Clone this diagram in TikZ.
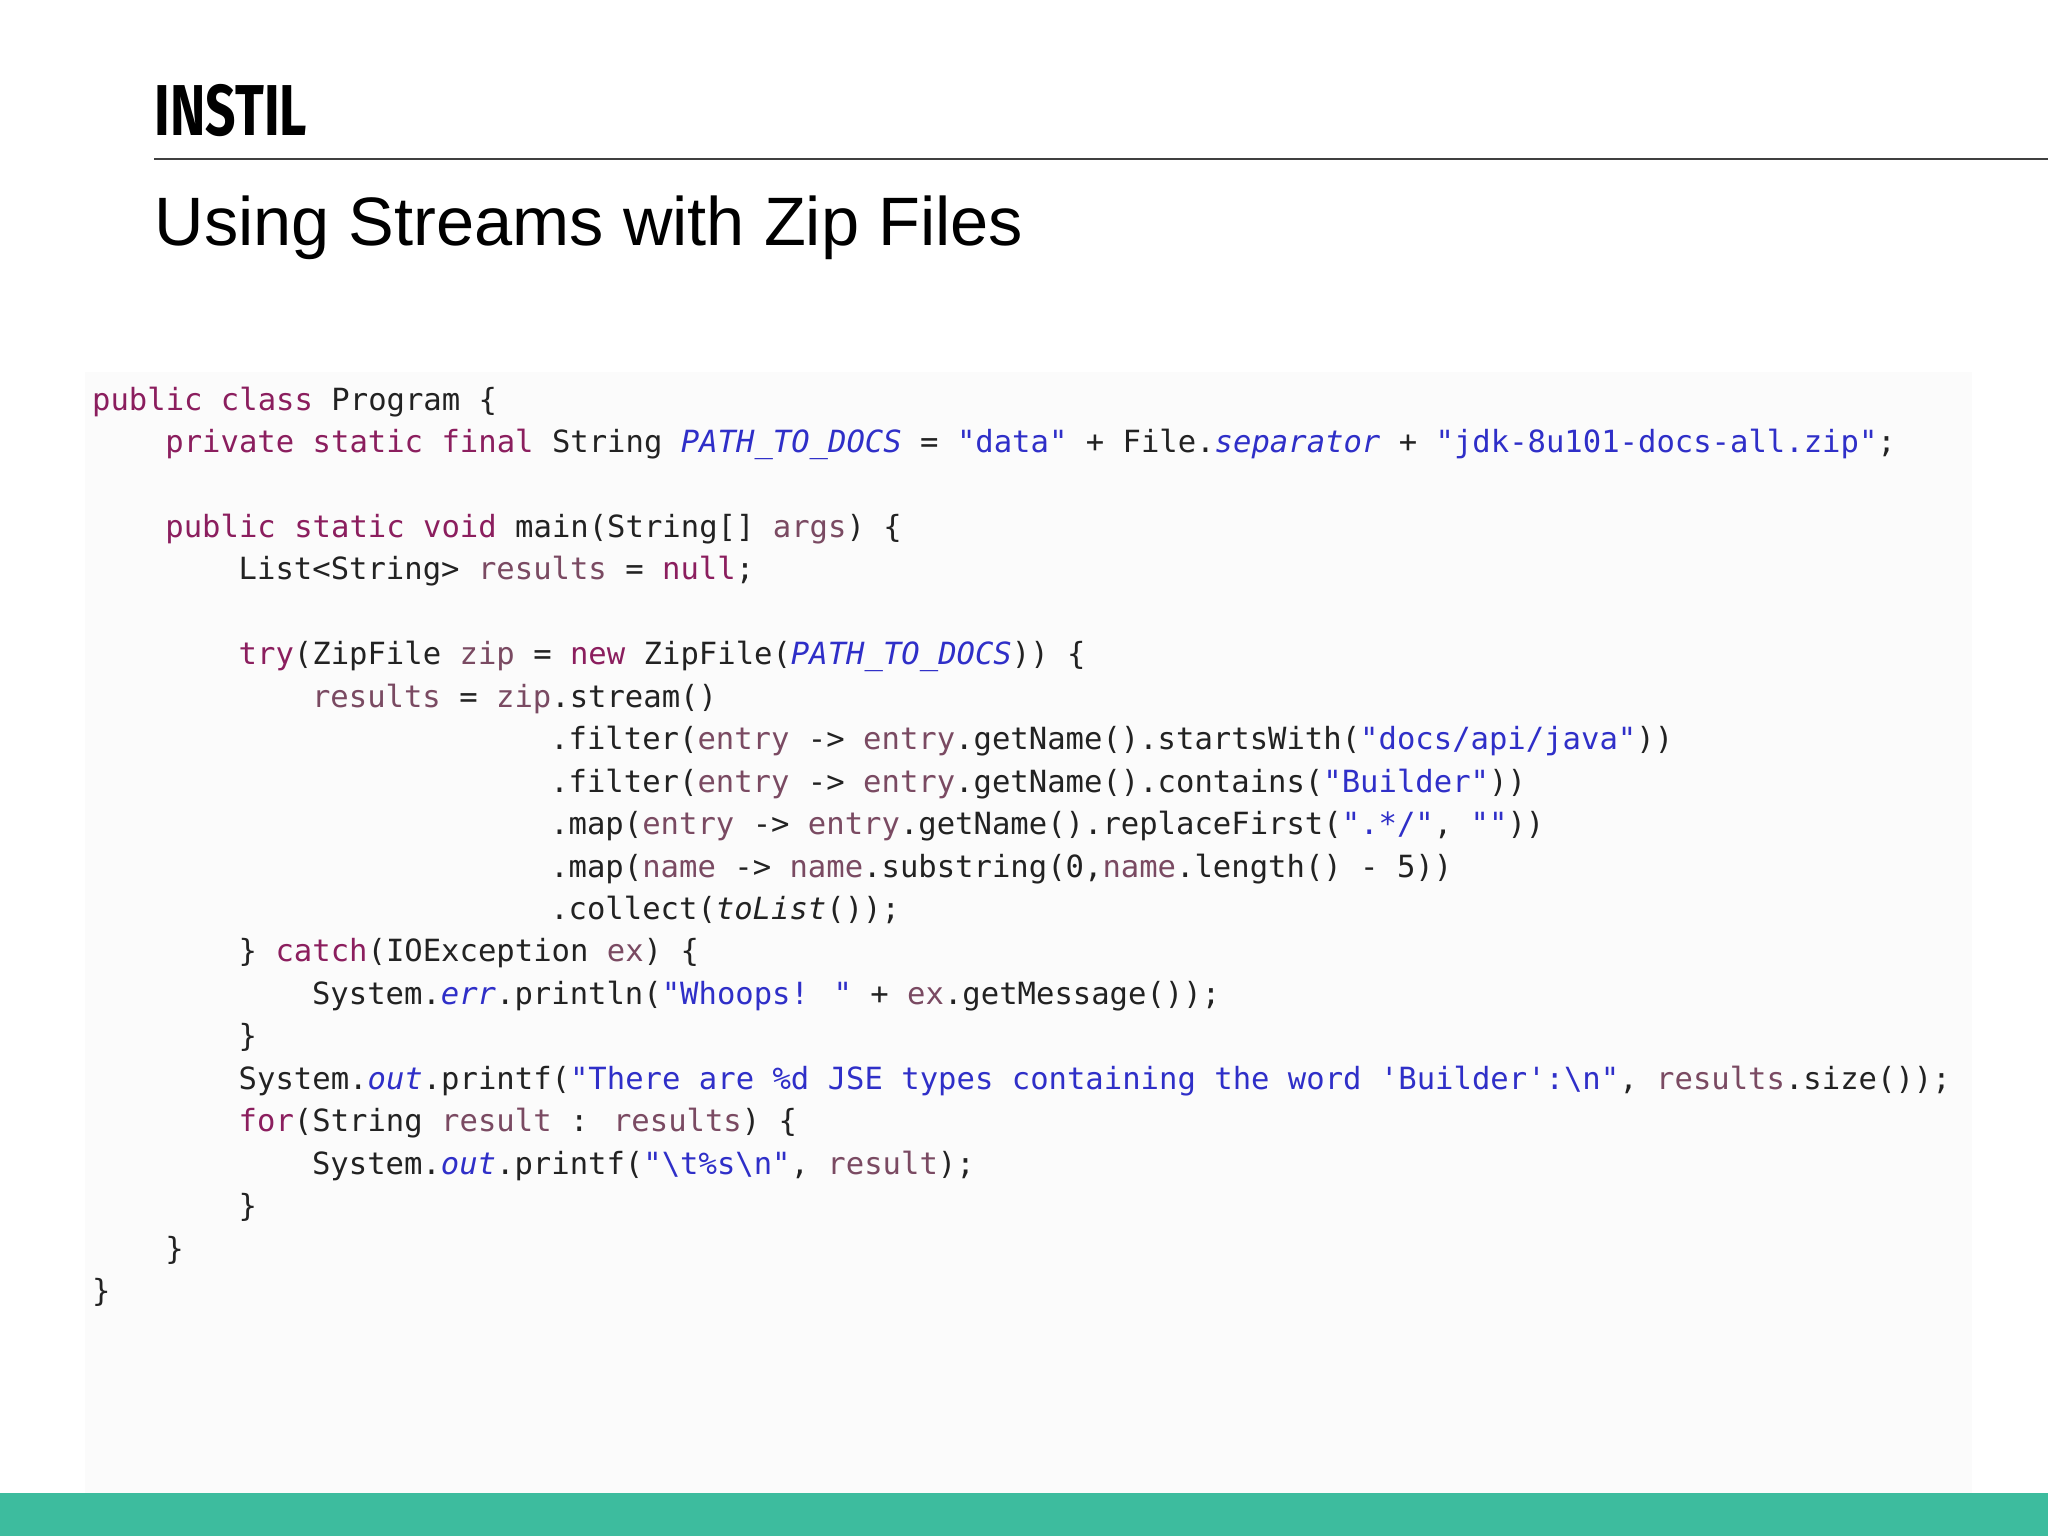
\documentclass[tikz,border=0pt]{standalone}
\usepackage{fontspec}
\setmainfont{Liberation Sans}
\newfontfamily\codefont{DejaVu Sans Mono}
\newfontfamily\logofont{Fira Sans}
\definecolor{kwc}{HTML}{8B1E5E}
\definecolor{vrc}{HTML}{7A4A62}
\definecolor{sgc}{HTML}{2F2FC8}
\definecolor{txc}{HTML}{222222}
\definecolor{teal}{HTML}{3DBC9E}
\newcommand{\Kw}[1]{\textcolor{kwc}{#1}}
\newcommand{\Vr}[1]{\textcolor{vrc}{#1}}
\newcommand{\Sg}[1]{\textcolor{sgc}{#1}}
\newcommand{\Fd}[1]{\textcolor{sgc}{\itshape #1}}
\newcommand{\It}[1]{{\itshape #1}}
\newcommand{\ap}{\char"27\relax}
\tikzset{codeline/.style={anchor=base west,inner sep=0pt,font=\codefont\fontsize{8.7pt}{10pt}\selectfont,text=txc}}
\begin{document}
\begin{tikzpicture}[x=0.01306cm,y=-0.01306cm]
\useasboundingbox (0,0) rectangle (1568,1176);
\fill[white] (0,0) rectangle (1568,1176);
\fill[white!98.5!black] (65,285) rectangle (1510,1143);
\node[anchor=base west,inner sep=0pt,font=\logofont\bfseries\fontsize{20.5pt}{21pt}\selectfont] (logo) at (118,104) {\scalebox{0.74}[1]{INSTIL}};
\coordinate (l1) at (118,122); \coordinate (l2) at (1568,122);
\draw[black!75,line width=0.5pt] (l1) -- (l2);
\node[anchor=base west,inner sep=0pt,font=\fontsize{19.5pt}{22pt}\selectfont] (title) at (118,188) {Using Streams with Zip Files};
\fill[teal] (0,1143) rectangle (1568,1176);
\def\cw{14.03}
\foreach \c/\r/\t [count=\i] in {
0/0/{\Kw{public} \Kw{class} Program \{},
4/1/{\Kw{private} \Kw{static} \Kw{final} String \Fd{PATH\_TO\_DOCS} = \Sg{"data"} + File.\Fd{separator} + \Sg{"jdk-8u101-docs-all.zip"};},
4/3/{\Kw{public} \Kw{static} \Kw{void} main(String[] \Vr{args}) \{},
8/4/{List<String> \Vr{results} = \Kw{null};},
8/6/{\Kw{try}(ZipFile \Vr{zip} = \Kw{new} ZipFile(\Fd{PATH\_TO\_DOCS})) \{},
12/7/{\Vr{results} = \Vr{zip}.stream()},
25/8/{.filter(\Vr{entry} -> \Vr{entry}.getName().startsWith(\Sg{"docs/api/java"}))},
25/9/{.filter(\Vr{entry} -> \Vr{entry}.getName().contains(\Sg{"Builder"}))},
25/10/{.map(\Vr{entry} -> \Vr{entry}.getName().replaceFirst(\Sg{".*/"}, \Sg{""}))},
25/11/{.map(\Vr{name} -> \Vr{name}.substring(0,\Vr{name}.length() - 5))},
25/12/{.collect(\It{toList}());},
8/13/{\} \Kw{catch}(IOException \Vr{ex}) \{},
12/14/{System.\Fd{err}.println(\Sg{"Whoops! "} + \Vr{ex}.getMessage());},
8/15/{\}},
8/16/{System.\Fd{out}.printf(\Sg{"There are \%d JSE types containing the word \ap Builder\ap :\textbackslash n"}, \Vr{results}.size());},
8/17/{\Kw{for}(String \Vr{result} : \Vr{results}) \{},
12/18/{System.\Fd{out}.printf(\Sg{"\textbackslash t\%s\textbackslash n"}, \Vr{result});},
8/19/{\}},
4/20/{\}},
0/21/{\}}}
{\node[codeline] (code\i) at ({70+\c*\cw},{314+\r*32.5}) {\t};}
\end{tikzpicture}
\end{document}
